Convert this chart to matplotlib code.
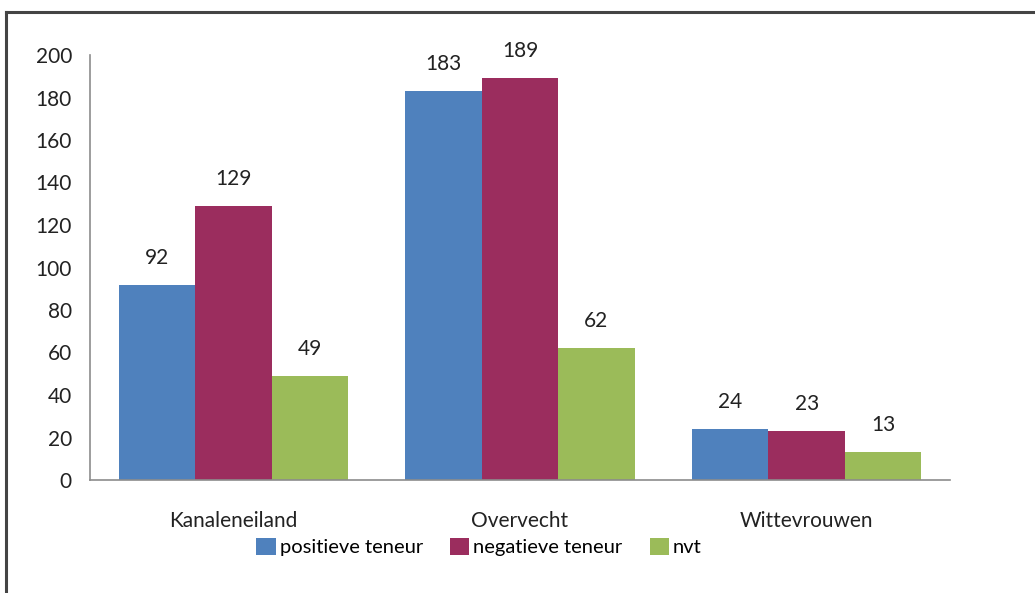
import numpy as np
import matplotlib
matplotlib.use("Agg")
import matplotlib.pyplot as plt
from matplotlib.lines import Line2D
from matplotlib.patches import Patch

plt.rcParams["font.family"] = ["Lato", "DejaVu Sans"]

wijken = ["Kanaleneiland", "Overvecht", "Wittevrouwen"]
positief = [92, 183, 24]
negatief = [129, 189, 23]
nvt = [49, 62, 13]
reeksen = ["positieve teneur", "negatieve teneur", "nvt"]
kleuren = ["#4F81BD", "#9B2D5E", "#9BBB59"]

W, H = 1035, 593
fig = plt.figure(figsize=(W / 100, H / 100), dpi=100)
ax = fig.add_axes([90 / W, 1 - 480 / H, 860 / W, 425 / H])

x = np.arange(len(wijken))
bw = 0.8 / 3
for i, (vals, kleur) in enumerate(zip([positief, negatief, nvt], kleuren)):
    bars = ax.bar(x + (i - 1) * bw, vals, width=bw, color=kleur, edgecolor="none")
    for b, v in zip(bars, vals):
        ax.text(b.get_x() + b.get_width() / 2, v + 8, str(v), ha="center", va="bottom",
                fontsize=15, color="#222222")

ax.set_xlim(-0.5, 2.5)
ax.set_ylim(0, 200)
ax.set_yticks(range(0, 201, 20))
ax.set_xticks(x)
ax.set_xticklabels(wijken)
ax.tick_params(axis="both", length=0, labelsize=15, colors="#222222")
ax.tick_params(axis="y", pad=13)
ax.tick_params(axis="x", pad=22)
for s in ["top", "right"]:
    ax.spines[s].set_visible(False)
for s in ["left", "bottom"]:
    ax.spines[s].set_color("#8c8c8c")
    ax.spines[s].set_linewidth(1.2)

handles = [Patch(facecolor=k, edgecolor="none") for k in kleuren]
fig.legend(handles, reeksen, loc="center", bbox_to_anchor=(479 / W, 1 - 547 / H),
           ncol=3, frameon=False, fontsize=14.5, handlelength=0.95, handleheight=0.95,
           handletextpad=0.2, columnspacing=1.35)

# kader rond de figuur (alleen boven en links zichtbaar)
fig.add_artist(Line2D([6 / W, 1.0], [1 - 12 / H, 1 - 12 / H], transform=fig.transFigure,
                      color="#444444", linewidth=2.2))
fig.add_artist(Line2D([6 / W, 6 / W], [0, 1 - 12 / H], transform=fig.transFigure,
                      color="#444444", linewidth=2.2))

fig.savefig("out.png", dpi=100)
